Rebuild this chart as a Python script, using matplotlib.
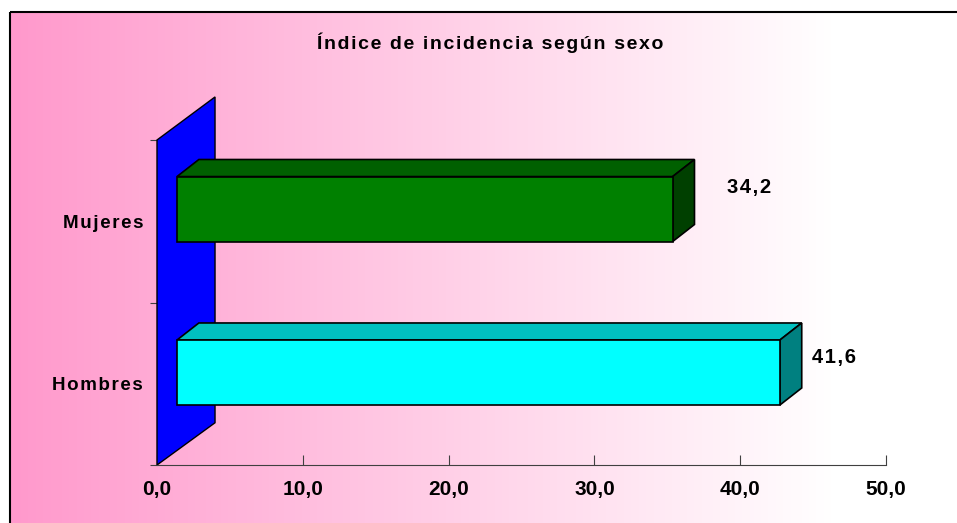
import numpy as np
import matplotlib.pyplot as plt
from matplotlib.patches import Rectangle, Polygon

categorias = ["Hombres", "Mujeres"]
valores = [41.6, 34.2]
etiquetas = ["41,6", "34,2"]
ticks_x = [0, 10, 20, 30, 40, 50]
ticks_x_txt = ["0,0", "10,0", "20,0", "30,0", "40,0", "50,0"]
titulo = "Índice de incidencia según sexo"

col_front = ["#00FFFF", "#008000"]
col_top = ["#00C0C0", "#006000"]
col_side = ["#008080", "#004000"]

fuente = ["Liberation Sans", "DejaVu Sans"]


def espaciado(s):
    # un poco de aire entre letras, como en el original
    return "\u200a".join(s)


fig = plt.figure(figsize=(9.57, 5.23), dpi=100)

# fondo degradado rosa -> blanco
bg = fig.add_axes([0, 0, 1, 1])
bg.set_xlim(0, 957)
bg.set_ylim(523, 0)
bg.axis("off")
t = np.linspace(0, 1, 256)
t = np.clip(t * 1.15, 0, 1)
c0 = np.array([255, 153, 204]) / 255
c1 = np.array([255, 255, 255]) / 255
grad = (c0[None, :] * (1 - t[:, None]) + c1[None, :] * t[:, None])[None, :, :]
bg.imshow(grad, extent=[10, 957, 523, 12], aspect="auto", zorder=0)
bg.add_patch(Rectangle((10, 12), 950, 520, fill=False, edgecolor="black", lw=1.5, zorder=1))

ax = fig.add_axes([157 / 957, 58 / 523, 729 / 957, 325 / 523])
ax.patch.set_alpha(0)
ax.set_xlim(0, 50)
ax.set_ylim(0, 2)

# pared azul del fondo
ax.add_patch(Polygon([(0, 0), (0, 2), (3.98, 2.265), (3.98, 0.26)], closed=True,
                     facecolor="#0000FF", edgecolor="black", lw=1, clip_on=False, zorder=2))

x0 = 1.37    # desplazamiento de la cara frontal
dx = 1.5     # profundidad en x
dy = 0.105   # profundidad en y
h = 0.4
pos = [0.569, 1.575]
for i, v in enumerate(valores):
    yb = pos[i] - h / 2
    yt = pos[i] + h / 2
    xe = x0 + v * 0.994
    top = [(x0, yt), (x0 + dx, yt + dy), (xe + dx, yt + dy), (xe, yt)]
    side = [(xe, yb), (xe, yt), (xe + dx, yt + dy), (xe + dx, yb + dy)]
    ax.add_patch(Polygon(top, closed=True, facecolor=col_top[i], edgecolor="black", lw=1.2, clip_on=False, zorder=3))
    ax.add_patch(Polygon(side, closed=True, facecolor=col_side[i], edgecolor="black", lw=1.2, clip_on=False, zorder=3))
    ax.add_patch(Rectangle((x0, yb), xe - x0, h, facecolor=col_front[i], edgecolor="black", lw=1.2, clip_on=False, zorder=4))

ax.text(44.9, 0.66, espaciado(etiquetas[0]), fontsize=14.5, fontweight="bold", family=fuente,
        ha="left", va="center")
ax.text(39.1, 1.71, espaciado(etiquetas[1]), fontsize=14.5, fontweight="bold", family=fuente,
        ha="left", va="center")

for s in ["top", "right", "left"]:
    ax.spines[s].set_visible(False)
ax.spines["bottom"].set_color("#404040")

ax.set_xticks(ticks_x)
ax.set_xticklabels(ticks_x_txt, fontsize=15, fontweight="bold",
                   family=["Liberation Sans Narrow", "Liberation Sans"])
ax.tick_params(axis="x", direction="in", length=7, color="#404040", pad=11)

ax.set_yticks([0, 1, 2])
ax.set_yticklabels([])
ax.set_yticks([0.5, 1.5], minor=True)
ax.set_yticklabels([espaciado(c) for c in categorias], minor=True, fontsize=13.5,
                   fontweight="bold", family=fuente)
ax.tick_params(axis="y", which="major", direction="out", length=5, color="#404040")
ax.tick_params(axis="y", which="minor", length=0, pad=10)

fig.text(490 / 957, 1 - 43 / 523, espaciado(titulo), fontsize=14, fontweight="bold",
         family=fuente, ha="center", va="center")

fig.savefig("out.png", dpi=100)
